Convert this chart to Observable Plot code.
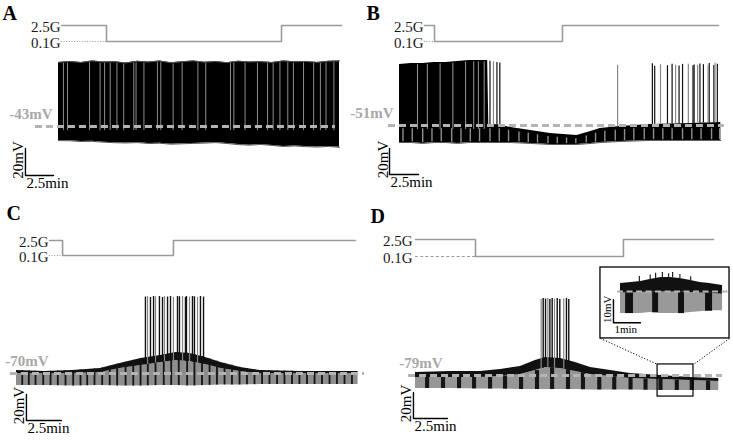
<!DOCTYPE html>
<html><head><meta charset="utf-8">
<script src="https://cdn.jsdelivr.net/npm/d3@7"></script>
<script src="https://cdn.jsdelivr.net/npm/@observablehq/plot@0.6"></script>
<style>
html,body{margin:0;padding:0;background:#fff;}
#fig{position:relative;width:733px;height:441px;overflow:hidden;background:#fff;}
#fig svg{position:absolute;left:0;top:0;}
</style></head><body><div id="fig"></div>
<script>
// ---------------- DATA ----------------
const panelLetters = ["A", "B", "C", "D"];
const restLabels = ["-43mV", "-51mV", "-70mV", "-79mV"];
const restMV = [-43, -51, -70, -79];
const glucoseLabels = ["2.5G", "0.1G"];
const glucoseLevels = [2.5, 0.1];

// glucose protocol: step times (min) and level (mM)
const gA_t = [0.27, 4.27, 19.84, 25.18], gA_g = [2.5, 0.1, 2.5, 2.5];
const gB_t = [2.16, 3.02, 14.05, 27.5], gB_g = [2.5, 0.1, 2.5, 2.5];
const gC_t = [2.36, 3.29, 11.21, 24.21], gC_g = [2.5, 0.1, 2.5, 2.5];
const gD_t = [0, 4.41, 15.29, 21.91], gD_g = [2.5, 0.1, 2.5, 2.5];

// Panel A: continuous firing envelope (mV)
const tA = [0,1,2,3,4,5,6,7,8,9,10,11,12,13,14,15,16,17,18,19,20,21,22,23,24,25];
const topA = [4.5,5.2,4.4,5.6,4.8,5.0,4.1,5.3,4.7,5.5,4.2,5.0,5.6,4.6,5.1,4.3,5.4,4.8,5.0,4.4,5.6,4.9,5.2,4.5,5.3,5.6];
const botA = [-53.4,-53.6,-54.1,-54.0,-54.6,-55.0,-55.2,-54.9,-55.6,-55.4,-56.1,-55.8,-55.5,-55.3,-54.9,-55.6,-56.4,-56.8,-56.3,-57.0,-57.8,-57.4,-57.9,-58.2,-57.8,-58.4];
const gapA = [0.44,0.8,2.76,3.7,4.1,4.6,5.2,5.8,6.7,6.9,7.6,8.8,9.1,10.2,11.0,12.4,13.1,15.3,15.6,16.6,17.7,18.6,19.1,19.7,20.4,20.9,21.8,22.7,23.3,23.8,24.5];

// Panel B
const tB = [0,1,2,3,4,5,6,7,7.6,7.7,8.5,9.6,11.3,13,15.3,16.5,17.3,19,21.6,25.1,27.7];
const hiB = [-4.1,-3.3,-3.3,-2.5,-2.5,-1.8,-1.0,-1.0,-1.0,-50.2,-50.5,-52.5,-54.8,-57.2,-58.7,-55.6,-53.3,-51.8,-50.2,-49.5,-48.7];
const loB = [-64.1,-64.1,-64.8,-64.1,-64.1,-64.8,-64.1,-64.1,-64.1,-64.1,-64.1,-64.1,-64.8,-65.6,-65.6,-64.8,-64.1,-63.3,-62.5,-62.5,-62.5];
const gapB = [1.55,2.4,3.5,4.6,5.7,6.4,6.8,7.3];
const pulseB = [0.3,1.1,2.0,2.8,3.6,4.5,5.3,6.1,6.9,7.8,8.6,9.4,10.3,11.1,11.9,12.8,13.6,14.4,15.2,16.1,16.9,17.7,18.6,19.4,20.2,21.1,21.9,22.7,23.5,24.4,25.2,26.0,26.9,27.6];
const spikeB_t = [7.8,8.1,8.4,8.65,18.8,21.8,22.0,22.5,23.1,23.5,23.8,24.1,24.4,24.9,25.3,25.4,25.7,25.9,26.2,26.6,26.7,27.1,27.2,27.4];
const spikeB_v = [-1.5,-2,-2.5,-3,-4.8,-3.5,-5.5,-4.3,-5.0,-3.9,-4.6,-5.2,-4.0,-3.8,-5.1,-4.4,-4.7,-3.6,-4.2,-5.0,-3.4,-4.9,-3.1,-3.8];

// Panel C
const tC = [0,2,4,6,7.4,8.9,10.3,11.4,12.4,13.5,14.6,16,17.4,20.3,24.4];
const topC = [-67.7,-68.5,-67.7,-66.2,-62.3,-58.5,-56.2,-53.8,-54.6,-57.7,-61.5,-65.4,-67.7,-68.5,-68.5];
const blkC = [-70,-70,-70,-69.2,-66.2,-63.8,-61.5,-60,-60.8,-63.1,-66.2,-68.5,-70,-70,-70];
const botC = [-79.2,-79.2,-79.6,-79.2,-79.6,-79.6,-79.2,-79.2,-79.6,-79.2,-78.8,-78.8,-78.5,-78.5,-78.5];
const pulseC = [0.41,0.88,1.36,1.91,2.43,2.95,3.5,4.05,4.57,5.05,5.57,6.12,6.66,7.19,7.79,8.34,8.86,9.38,9.93,10.52,11.05,11.59,12.19,12.71,13.25,13.79,14.32,14.86,15.39,15.93,16.46,17.0,17.54,18.07,18.61,19.14,19.68,20.21,20.75,21.29,21.82,22.36,22.89,23.43,23.96];
const spikeC_t = [9.21,9.36,9.57,9.79,9.93,10.21,10.43,10.57,10.79,11.0,11.21,11.5,11.64,11.86,12.07,12.14,12.36,12.57,12.71,12.93,13.14,13.36];
const spikeC_v = [-11.2,-10.8,-11.5,-10.8,-11.0,-10.8,-11.5,-10.8,-11.2,-10.8,-11.5,-10.8,-11.0,-10.8,-11.5,-10.8,-11.2,-10.8,-11.0,-11.5,-10.8,-11.2];

// Panel D
const tD = [0,2.57,4.78,6.25,7.72,8.82,9.56,10.66,11.76,12.87,14.34,15.8,18.0,20.2,22.3];
const topD = [-76.7,-75.9,-75.9,-74.4,-72.1,-67.5,-65.2,-65.9,-69.0,-72.8,-75.2,-77.5,-79.0,-80.5,-81.3];
const blkD = [-80.5,-80.5,-80.5,-79.8,-78.2,-75.2,-72.8,-73.6,-75.9,-78.2,-79.8,-81.3,-82.1,-82.8,-83.6];
const botD = [-89,-89,-89.4,-89.4,-89.8,-89.8,-89.8,-89.8,-89.8,-90.1,-90.1,-90.1,-90.5,-90.5,-90.5];
const pulseD = [0.74,1.91,3.09,4.19,5.37,6.47,7.65,8.82,9.93,11.1,12.2,13.4,14.5,15.7,16.8,17.9,19.1,20.2,21.4];
const spikeD_t = [9.24,9.39,9.56,9.73,9.88,10.05,10.22,10.42,10.61,10.9,11.1,11.27];
const spikeD_v = [-20.5,-19.8,-20.2,-19.8,-20.5,-19.8,-20.2,-19.8,-20.5,-20.2,-19.8,-20.5];
const zoomWin_t = [17.8, 20.44], zoomWin_v = [-95.2, -70.5];

// Inset (magnified part of D)
const tI = [0,0.4,0.75,1.1,1.5,1.85,2.2,2.6,2.95,3.3,3.78];
const topI = [-75.5,-75.1,-74.6,-73.8,-72.9,-72.9,-73.3,-74.2,-75.1,-75.5,-76.4];
const blkI = [-79.6,-79.6,-79.4,-79.2,-79.2,-79.2,-79.2,-79.4,-79.6,-79.8,-80.2];
const botI = [-88.6,-88.6,-88.6,-88.1,-88.6,-88.6,-88.6,-88.1,-87.8,-87.4,-87.4];
const pulseI_start = [0.19,1.19,2.15,3.15], pulseI_end = [0.48,1.41,2.37,3.41];
const spikeI_t = [0.7,1.1,1.3,1.55,1.78,1.93,2.2,2.6];
const spikeI_v = [-72.5,-71.8,-71.1,-70.7,-71.3,-70.7,-71.6,-72.6];

// ---------------- DRAWING ----------------
const W = 733, H = 441;
const fig = document.getElementById("fig");
const serif = "'Liberation Serif', 'Times New Roman', serif";
const GRAYLINE = "#9b9b9b", REFGRAY = "#b4b4b4";

function overlay(m, marks) {
  const x = {domain: [m.t0 - m.px0 / m.ppm, m.t0 + (W - m.px0) / m.ppm], axis: null};
  const y = {domain: [m.v0 - (H - m.py0) / m.ppv, m.v0 + m.py0 / m.ppv], axis: null};
  const svg = Plot.plot({width: W, height: H, margin: 0, x, y, marks,
    style: {background: "transparent", fontFamily: serif, overflow: "visible"}});
  fig.appendChild(svg);
}
const interp = (xs, ys, x) => {
  let i = d3.bisectRight(xs, x);
  i = Math.max(1, Math.min(xs.length - 1, i));
  const a = i - 1, f = Math.max(0, Math.min(1, (x - xs[a]) / (xs[i] - xs[a])));
  return ys[a] + f * (ys[i] - ys[a]);
};
const rows = (t, cols) => t.map((tt, i) => { const o = {t: tt}; for (const k in cols) o[k] = cols[k][i]; return o; });

function glucoseMarks(tArr, gArr, labelT, letter, ldx, ldy, dashed) {
  return [
    Plot.ruleY([0.1], {x1: tArr[0], x2: tArr[1], stroke: GRAYLINE, strokeWidth: 1.2, strokeDasharray: dashed ? "3,2.2" : "1,1.6"}),
    Plot.line(rows(tArr, {g: gArr}), {x: "t", y: "g", curve: "step-after", stroke: GRAYLINE, strokeWidth: 1.6}),
    Plot.text(glucoseLabels, {x: () => labelT, y: (d, i) => glucoseLevels[i], text: d => d, dy: 2, textAnchor: "end", fontSize: 15, fill: "#1a1a1a", fontFamily: serif}),
    Plot.text([letter], {frameAnchor: "top-left", dx: ldx, dy: ldy, fontSize: 20, fontWeight: "bold", fill: "#000", fontFamily: serif})
  ];
}
function refMarks(v, x1, x2, label, labelT) {
  return [
    Plot.ruleY([v], {x1, x2, stroke: REFGRAY, strokeWidth: 3, strokeDasharray: "7,4"}),
    Plot.text([label], {x: labelT, y: v, dy: -12, textAnchor: "end", fontSize: 15, fontWeight: "bold", fill: "#a8a8a8", fontFamily: serif})
  ];
}
function scaleBar(t, v, dv, dt, vLabel, tLabel, fs) {
  return [
    Plot.line([{t, v: v + dv}, {t, v}, {t: t + dt, v}], {x: "t", y: "v", stroke: "#000", strokeWidth: 1.4}),
    Plot.text([vLabel], {x: t, y: v + dv / 2, rotate: -90, dx: -2, dy: -2, textAnchor: "middle", lineAnchor: "bottom", fontSize: fs, fill: "#000", fontFamily: serif}),
    Plot.text([tLabel], {x: t, y: v, dx: 1, dy: 2, textAnchor: "start", lineAnchor: "top", fontSize: fs, fill: "#000", fontFamily: serif})
  ];
}

// ---- Panel A ----
const mA = {px0: 58, t0: 0, ppm: 11.24, py0: 126, v0: -43, ppv: 1.35};
const dataA = rows(tA, {hi: topA, lo: botA});
overlay(mA, [
  Plot.areaY(dataA, {x: "t", y1: "lo", y2: "hi", fill: "#000"}),
  Plot.ruleX(gapA, {x: d => d, y1: restMV[0] - 3, y2: d => interp(tA, topA, d) - 1, stroke: "#8c8c8c", strokeWidth: 1}),
  Plot.lineY(dataA, {x: "t", y: "hi", stroke: "#555", strokeWidth: 1}),
  Plot.lineY(dataA, {x: "t", y: "lo", stroke: "#555", strokeWidth: 1}),
  ...refMarks(restMV[0], -2.05, 24.64, restLabels[0], -0.53),
  ...scaleBar(-2.94, -79.3, 20, 2.5, "20mV", "2.5min", 15)
]);
overlay({px0: 58, t0: 0, ppm: 11.24, py0: 25, v0: 2.5, ppv: 16 / 2.4},
  glucoseMarks(gA_t, gA_g, 0.18, panelLetters[0], 2, 5, false));

// ---- Panel B ----
const mB = {px0: 399, t0: 0, ppm: 11.6, py0: 125, v0: -51, ppv: 1.3};
const dataB = rows(tB, {hi: hiB, lo: loB});
overlay(mB, [
  Plot.areaY(dataB, {x: "t", y1: "lo", y2: "hi", fill: "#000"}),
  Plot.ruleX(gapB, {x: d => d, y1: restMV[1] - 3, y2: d => interp(tB, hiB, d) - 1, stroke: "#9a9a9a", strokeWidth: 1}),
  Plot.ruleX(pulseB, {x: d => d, y1: d => interp(tB, loB, d) + 0.6, y2: d => Math.min(interp(tB, hiB, d), restMV[1]) - 2.5, stroke: "#8e8e8e", strokeWidth: 1.4}),
  Plot.ruleX(spikeB_t.filter((d, i) => i % 3 !== 1), {x: d => d, y1: d => interp(tB, hiB, d), y2: d => spikeB_v[spikeB_t.indexOf(d)], stroke: "#111", strokeWidth: 1.2}),
  Plot.ruleX(spikeB_t.filter((d, i) => i % 3 === 1), {x: d => d, y1: d => interp(tB, hiB, d), y2: d => spikeB_v[spikeB_t.indexOf(d)], stroke: "#888", strokeWidth: 1.2}),
  Plot.lineY(dataB, {x: "t", y: "lo", stroke: "#555", strokeWidth: 1}),
  ...refMarks(restMV[1], -0.95, 28.0, restLabels[1], -0.52),
  ...scaleBar(-0.86, -88.7, 20, 2.5, "20mV", "2.5min", 15)
]);
overlay({px0: 399, t0: 0, ppm: 11.6, py0: 25, v0: 2.5, ppv: 16 / 2.4},
  glucoseMarks(gB_t, gB_g, 2.07, panelLetters[1], 366, 5, false));

// ---- Panel C ----
const mC = {px0: 16, t0: 0, ppm: 14, py0: 373, v0: -70, ppv: 1.3};
const dataC = rows(tC, {hi: topC, mid: blkC, lo: botC});
overlay(mC, [
  Plot.areaY(dataC, {x: "t", y1: "lo", y2: "mid", fill: "#8e8e8e"}),
  Plot.areaY(dataC, {x: "t", y1: "mid", y2: "hi", fill: "#111"}),
  Plot.ruleX(pulseC, {x: d => d, y1: d => interp(tC, botC, d), y2: d => interp(tC, topC, d), stroke: "#151515", strokeWidth: 1.8}),
  Plot.ruleX(spikeC_t.filter((d, i) => i % 3 !== 1), {x: d => d, y1: d => interp(tC, blkC, d), y2: d => spikeC_v[spikeC_t.indexOf(d)], stroke: "#111", strokeWidth: 1.4}),
  Plot.ruleX(spikeC_t.filter((d, i) => i % 3 === 1), {x: d => d, y1: d => interp(tC, blkC, d), y2: d => spikeC_v[spikeC_t.indexOf(d)], stroke: "#858585", strokeWidth: 1.2}),
  ...refMarks(restMV[2], -0.43, 24.86, restLabels[2], 2.29),
  ...scaleBar(0.71, -106.2, 20, 2.5, "20mV", "2.5min", 15)
]);
overlay({px0: 16, t0: 0, ppm: 14, py0: 240, v0: 2.5, ppv: 15 / 2.4},
  glucoseMarks(gC_t, gC_g, 2.29, panelLetters[2], 6, 205, false));

// ---- Panel D ----
const mD = {px0: 415, t0: 0, ppm: 13.6, py0: 375, v0: -79, ppv: 1.3};
const dataD = rows(tD, {hi: topD, mid: blkD, lo: botD});
const insetBox = [{x1: 13.6, x2: 23.09, y1: -50.5, y2: 4.08}];
overlay(mD, [
  Plot.areaY(dataD, {x: "t", y1: "lo", y2: "mid", fill: "#979797"}),
  Plot.areaY(dataD, {x: "t", y1: "mid", y2: "hi", fill: "#111"}),
  Plot.rect(pulseD, {x1: d => d, x2: d => d + 0.3, y1: d => interp(tD, botD, d), y2: d => interp(tD, blkD, d), fill: "#151515"}),
  Plot.ruleX(spikeD_t.filter((d, i) => i % 3 !== 0), {x: d => d, y1: d => interp(tD, blkD, d), y2: d => spikeD_v[spikeD_t.indexOf(d)], stroke: "#111", strokeWidth: 1.4}),
  Plot.ruleX(spikeD_t.filter((d, i) => i % 3 === 0), {x: d => d, y1: d => interp(tD, blkD, d), y2: d => spikeD_v[spikeD_t.indexOf(d)], stroke: "#888", strokeWidth: 1.2}),
  ...refMarks(restMV[3], -0.51, 22.57, restLabels[3], 1.99),
  Plot.rect([0], {x1: zoomWin_t[0], x2: zoomWin_t[1], y1: zoomWin_v[0], y2: zoomWin_v[1], fill: "none", stroke: "#000", strokeWidth: 1.2}),
  Plot.rect(insetBox, {x1: "x1", x2: "x2", y1: "y1", y2: "y2", fill: "#fff", stroke: "#000", strokeWidth: 1.3}),
  Plot.link([{a: insetBox[0].x1, b: zoomWin_t[0]}, {a: insetBox[0].x2, b: zoomWin_t[1]}], {x1: "a", x2: "b", y1: insetBox[0].y1, y2: zoomWin_v[1], stroke: "#000", strokeWidth: 1, strokeDasharray: "1.2,1.8"}),
  ...scaleBar(-0.15, -112.1, 20, 2.5, "20mV", "2.5min", 15)
]);
overlay({px0: 415, t0: 0, ppm: 13.6, py0: 239, v0: 2.5, ppv: 17 / 2.4},
  glucoseMarks(gD_t, gD_g, -0.22, panelLetters[3], 370, 208, true));

// ---- Inset ----
const mI = {px0: 620, t0: 0, ppm: 27, py0: 291, v0: -79, ppv: 2.3};
const dataI = rows(tI, {hi: topI, mid: blkI, lo: botI});
overlay(mI, [
  Plot.areaY(dataI, {x: "t", y1: "lo", y2: "mid", fill: "#999"}),
  Plot.areaY(dataI, {x: "t", y1: "mid", y2: "hi", fill: "#111"}),
  Plot.rect(pulseI_start, {x1: d => d, x2: (d, i) => pulseI_end[i], y1: d => interp(tI, botI, d), y2: d => interp(tI, blkI, d), fill: "#111"}),
  Plot.ruleX(spikeI_t, {x: d => d, y1: d => interp(tI, topI, d), y2: (d, i) => spikeI_v[i], stroke: "#222", strokeWidth: 1.2}),
  Plot.ruleY([restMV[3]], {x1: -0.11, x2: 4.04, stroke: REFGRAY, strokeWidth: 2.2, strokeDasharray: "6,3.5"}),
  ...scaleBar(-0.26, -92.6, 10, 1, "10mV", "1min", 11)
]);
</script></body></html>
